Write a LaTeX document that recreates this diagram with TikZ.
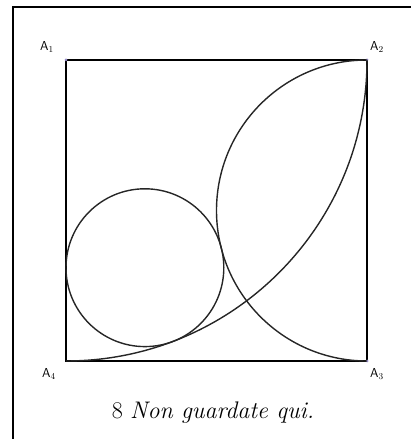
\documentclass[tikz,border=0pt]{standalone}
\usepackage{amsmath, amssymb}
\usepackage{tikz}
\usepackage{xcolor}
\usetikzlibrary{positioning,calc}

\definecolor{vertexcol}{RGB}{150,140,200}

\begin{document}
\begin{tikzpicture}[x=1pt, y=1pt, font=\sffamily\small,
        side/.style={line width=1.8pt},
        curve/.style={line width=1.4pt, black!85},
        vertex/.style={font=\fontsize{13}{15}\selectfont\sffamily},
        dot/.style={fill=vertexcol, inner sep=0pt, minimum size=3pt, circle}]
        \useasboundingbox (0,0) rectangle (411,439);
        % frame of the page (only left and top are visible)
        \draw[line width=2.4pt] (13,0) -- (13,432) -- (411,432);
        % corners of the square
        \coordinate (A1) at (66,379);
        \coordinate (A2) at (367,379);
        \coordinate (A3) at (367,78);
        \coordinate (A4) at (66,78);
        \draw[side] (A1) -- (A2) -- (A3) -- (A4) -- cycle;
        \foreach \p in {A1, A2, A3}
            \node[dot] at (\p) {};
        % labels of the corners
        \node[vertex] (l1) at (47,392) {A$_1$};
        \node[vertex] (l2) at (377,392) {A$_2$};
        \node[vertex] (l3) at (377,65) {A$_3$};
        \node[vertex] (l4) at (49,65) {A$_4$};
        % quarter circle with centre A1
        \draw[curve] (A4) arc[start angle=-90, end angle=0, radius=301];
        % half circle on A2A3
        \draw[curve] (A2) arc[start angle=90, end angle=270, radius=150.5];
        % circle tangent to the side and to both arcs
        \draw[curve] (144.9,171.3) circle[radius=78.9];
        % caption
        \node[font=\fontsize{24}{28}\selectfont\rmfamily] (cap) at (213,26)
            {8 \textit{Non guardate qui.}};
    \end{tikzpicture}
\end{document}
